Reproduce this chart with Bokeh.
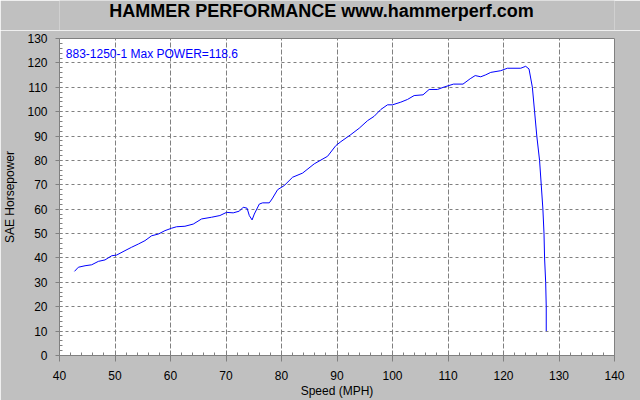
from bokeh.plotting import figure
from bokeh.layouts import column
from bokeh.models import SingleIntervalTicker, Range1d, Label, BoxAnnotation
from bokeh.embed import file_html
from bokeh.resources import INLINE

title_text = "HAMMER PERFORMANCE www.hammerperf.com"
run_label = "883-1250-1  Max POWER=118.6"
x_label = "Speed (MPH)"
y_label = "SAE Horsepower"

speed = [42.7, 43.4, 44.6, 45.8, 47.0, 48.2, 49.4, 50.3, 51.8, 53.0, 54.2, 55.4,
         56.6, 57.8, 59.0, 60.2, 61.1, 62.6, 64.1, 65.6, 67.4, 68.9, 70.1, 71.3,
         72.4, 73.1, 73.8, 74.2, 74.7, 75.1, 76.0, 76.6, 77.8, 78.3, 79.3, 80.5,
         82.0, 83.8, 85.9, 88.3, 89.8, 90.7, 92.5, 94.0, 95.5, 96.7, 97.9, 99.1,
         100.0, 101.5, 102.7, 103.9, 105.5, 106.6, 108.1, 109.3, 111.0, 112.7,
         114.0, 114.9, 115.9, 116.8, 117.7, 119.5, 120.7, 123.1, 124.0, 124.6,
         125.2, 125.6, 126.0, 126.5, 126.8, 127.1, 127.3, 127.4, 127.6, 127.7, 127.7]
hp = [34.5, 36.2, 36.8, 37.2, 38.6, 39.2, 40.9, 41.2, 43.0, 44.4, 45.7, 47.1,
      49.1, 49.8, 51.2, 52.2, 52.8, 53.0, 53.9, 56.0, 56.7, 57.4, 58.7, 58.5,
      59.2, 60.8, 60.4, 57.4, 55.6, 58.0, 62.1, 62.6, 62.6, 64.2, 68.0, 69.7,
      73.1, 74.8, 78.6, 81.7, 86.1, 87.7, 90.6, 93.2, 96.3, 98.1, 100.9, 102.8,
      102.8, 103.9, 105.0, 106.6, 106.9, 109.1, 109.1, 110.1, 111.3, 111.3,
      113.5, 114.8, 114.3, 115.1, 116.1, 116.8, 117.8, 117.8, 118.6, 117.5,
      110.0, 100.0, 90.0, 80.0, 70.0, 60.0, 50.0, 40.0, 30.0, 20.0, 10.0]

x_min, x_max = 40, 140
y_min, y_max = 0, 130

FONT = "Liberation Sans"
GRID = "#808080"
BG = "#C0C0C0"

# ---- title strip ----
TITLE_H = 30
t = figure(width=640, height=TITLE_H, output_backend="svg", toolbar_location=None,
           x_axis_type=None, y_axis_type=None,
           x_range=Range1d(0, 1), y_range=Range1d(0, 1),
           min_border_left=57, min_border_right=26,
           min_border_top=0, min_border_bottom=0)
t.border_fill_color = BG
t.background_fill_color = BG
t.outline_line_color = None
t.grid.visible = False
t.add_layout(Label(x=262, y=19.5, x_units="screen", y_units="screen",
                   text=title_text, text_font=FONT, text_font_style="bold",
                   text_font_size="18px", text_align="center",
                   text_baseline="alphabetic", text_color="black"))

# ---- main chart ----
f = figure(width=640, height=400 - TITLE_H, output_backend="svg",
           toolbar_location=None,
           x_range=Range1d(x_min, x_max), y_range=Range1d(y_min, y_max),
           min_border_left=57, min_border_right=26, min_border_top=38 - TITLE_H,
           min_border_bottom=44)
f.border_fill_color = BG
f.background_fill_color = "white"
f.outline_line_color = GRID
f.outline_line_width = 1

# drop shadow of the plot area
f.add_layout(BoxAnnotation(left=140, right=140.9, bottom=-2.45, top=127.5,
                           fill_color="#808080", fill_alpha=1, line_color=None,
                           level="underlay"))
f.add_layout(BoxAnnotation(left=41.1, right=140.9, bottom=-2.45, top=0,
                           fill_color="#808080", fill_alpha=1, line_color=None,
                           level="underlay"))

for ax in (f.xaxis[0], f.yaxis[0]):
    ax.ticker = SingleIntervalTicker(interval=10, num_minor_ticks=5)
    ax.axis_line_color = GRID
    ax.major_tick_line_color = GRID
    ax.minor_tick_line_color = GRID
    ax.major_tick_in = 0
    ax.minor_tick_out = 0
    ax.minor_tick_in = 3
    ax.major_label_text_font = FONT
    ax.major_label_text_font_size = "12px"
    ax.major_label_text_color = "black"
    ax.axis_label_text_font = FONT
    ax.axis_label_text_font_size = "12px"
    ax.axis_label_text_font_style = "normal"
    ax.axis_label_text_color = "black"

f.xaxis.axis_label = x_label
f.yaxis.axis_label = y_label
f.xaxis.major_tick_out = 6
f.xaxis.major_label_standoff = 9
f.xaxis.axis_label_standoff = 1
f.yaxis.major_tick_out = 4
f.yaxis.major_label_standoff = 8
f.yaxis.axis_label_standoff = 7

f.xgrid.grid_line_color = GRID
f.xgrid.grid_line_dash = "5 2"
f.ygrid.grid_line_color = GRID
f.ygrid.grid_line_dash = "3 3"

f.line(speed, hp, line_color="#0000FF", line_width=1)

f.add_layout(Label(x=6.3, y=302, x_units="screen", y_units="screen",
                   text=run_label, text_font=FONT, text_font_size="12px",
                   text_align="left", text_baseline="alphabetic",
                   text_color="#0000FF"))

p = column(t, f, spacing=0)
open("out.html", "w").write(file_html(p, INLINE))
